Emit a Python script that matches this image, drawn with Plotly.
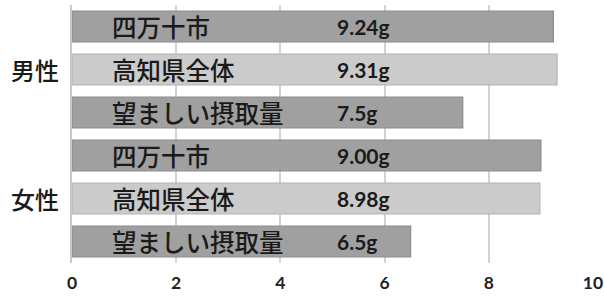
import plotly.graph_objects as go

groups = ["男性", "女性"]
items = ["四万十市", "高知県全体", "望ましい摂取量"]
male_values = [9.24, 9.31, 7.5]
female_values = [9.00, 8.98, 6.5]
male_labels = ["9.24g", "9.31g", "7.5g"]
female_labels = ["9.00g", "8.98g", "6.5g"]
tick_vals = [0, 2, 4, 6, 8, 10]

bar_colors = ["#a0a0a0", "#cbcbcb", "#a0a0a0"]
line_colors = ["#8c8c8c", "#b4b4b4", "#8c8c8c"]

cats, vals, vlabels, names, colors, lcolors = [], [], [], [], [], []
for g, v, lab in [(groups[0], male_values, male_labels), (groups[1], female_values, female_labels)]:
    for i, it in enumerate(items):
        cats.append(g + "・" + it)
        vals.append(v[i])
        vlabels.append(lab[i])
        names.append(it)
        colors.append(bar_colors[i])
        lcolors.append(line_colors[i])

fig = go.Figure()
fig.add_trace(go.Bar(
    y=cats, x=vals, orientation="h", width=0.72,
    marker=dict(color=colors, line=dict(color=lcolors, width=1.2)),
    hoverinfo="skip",
))

font_jp = "Noto Sans CJK JP"
ann = []
for c, n, vl in zip(cats, names, vlabels):
    ann.append(dict(x=0.72, y=c, xref="x", yref="y", text=n, showarrow=False,
                    xanchor="left", yanchor="middle",
                    font=dict(family=font_jp, size=24.5, color="#1a1a1a", weight=500)))
    ann.append(dict(x=5.05, y=c, xref="x", yref="y", text=vl, showarrow=False,
                    xanchor="left", yanchor="middle",
                    font=dict(family="Lato", size=21, color="#1a1a1a", weight="bold")))
for g in groups:
    ann.append(dict(x=-0.071, y=g + "・" + items[1], xref="paper", yref="y", text=g,
                    showarrow=False, xanchor="center", yanchor="middle",
                    font=dict(family=font_jp, size=24, color="#1a1a1a", weight=500)))

fig.update_layout(
    width=604, height=300,
    margin=dict(l=72, r=11, t=5, b=37, autoexpand=False),
    plot_bgcolor="white", paper_bgcolor="white",
    showlegend=False,
    annotations=ann,
    xaxis=dict(range=[0, 10], tickvals=tick_vals, showgrid=True, gridcolor="#d2d2d2",
               gridwidth=1.5, zeroline=False, showline=False, automargin=False,
               ticklabelstandoff=7,
               tickfont=dict(family="Lato", size=17.5, color="#222222", weight="bold")),
    yaxis=dict(categoryorder="array", categoryarray=cats, autorange="reversed",
               showticklabels=False, showgrid=False, zeroline=False, automargin=False,
               showline=True, linecolor="#c8c8c8", linewidth=1.5),
)

fig.write_html("out.html", config={"displayModeBar": False},
               post_script="document.body.style.margin='0';")
